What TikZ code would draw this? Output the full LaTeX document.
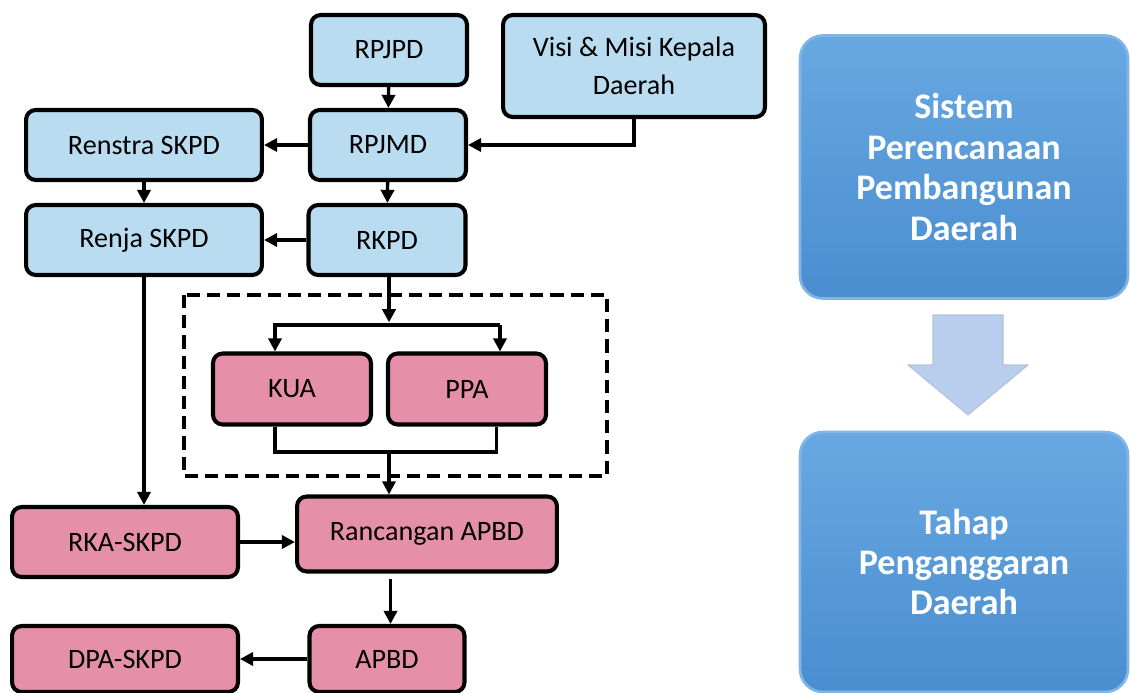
\documentclass[tikz,border=0pt]{standalone}
\usepackage{fontspec}
\setmainfont{Carlito}
\usepackage{tikz}
\usetikzlibrary{arrows.meta}
\usepackage{xcolor}
\definecolor{planblue}{RGB}{185,220,240}
\definecolor{budgetpink}{RGB}{229,143,168}
\definecolor{paneltop}{RGB}{104,168,226}
\definecolor{panelbot}{RGB}{74,142,208}
\definecolor{panelrim}{RGB}{128,182,230}
\definecolor{arrowblue}{RGB}{184,206,236}

\begin{document}
\begin{tikzpicture}[x=0.02cm,y=-0.02cm,
    box/.style={draw=black,line width=2.3pt,rounded corners=5.5pt,align=center,
        inner sep=0pt,font=\fontsize{16}{21.5}\selectfont},
    plan/.style={box,fill=planblue},
    budget/.style={box,fill=budgetpink},
    panel/.style={draw=panelrim,line width=1.5pt,rounded corners=13pt,top color=paneltop,
        bottom color=panelbot,text=white,align=center,
        font=\fontsize{20.5}{23}\selectfont\bfseries},
    link/.style={line width=1.9pt},
    arr/.style={link,-{Triangle[length=7.5pt,width=7.5pt]}}]
        \useasboundingbox (0,0) rectangle (1130,693);

        % planning documents
        \node[plan,minimum width=3.12cm,minimum height=1.40cm] (rpjpd) at (389,50) {RPJPD};
        \node[plan,minimum width=5.24cm,minimum height=2.04cm] (visi) at (634,66) {Visi \& Misi Kepala\\Daerah};
        \node[plan,minimum width=4.72cm,minimum height=1.40cm] (renstra) at (144,145) {Renstra SKPD};
        \node[plan,minimum width=3.12cm,minimum height=1.40cm] (rpjmd) at (388,145) {RPJMD};
        \node[plan,minimum width=4.72cm,minimum height=1.40cm] (renja) at (144,240) {Renja SKPD};
        \node[plan,minimum width=3.14cm,minimum height=1.40cm] (rkpd) at (387,240) {RKPD};

        % budget documents
        \node[budget,minimum width=3.16cm,minimum height=1.42cm] (kua) at (292,389) {KUA};
        \node[budget,minimum width=3.16cm,minimum height=1.42cm] (ppa) at (467,389) {PPA};
        \node[budget,minimum width=4.52cm,minimum height=1.40cm] (rka) at (125,542) {RKA-SKPD};
        \node[budget,minimum width=5.20cm,minimum height=1.50cm] (ranc) at (427,534) {Rancangan APBD};
        \node[budget,minimum width=3.10cm,minimum height=1.32cm] (apbd) at (387,659) {APBD};
        \node[budget,minimum width=4.52cm,minimum height=1.32cm] (dpa) at (125,659) {DPA-SKPD};

        % dashed frame
        \draw[line width=2.2pt,dash pattern=on 7.5pt off 4pt] (184,295) rectangle (607,476);

        % planning arrows
        \draw[arr] (rpjpd) -- (rpjmd);
        \draw[arr] (visi.south) |- (rpjmd.east);
        \draw[arr] (rpjmd) -- (renstra);
        \draw[arr] (renstra) -- (renja);
        \draw[arr] (rpjmd) -- (rkpd);
        \draw[arr] (rkpd) -- (renja);

        % into and out of the frame
        \coordinate (split) at (389,325);
        \coordinate (kuain) at (275,325);
        \coordinate (ppain) at (500,325);
        \coordinate (merge) at (389,452);
        \draw[arr] (rkpd.south -| split) -- ([yshift=1.5pt]split);
        \draw[arr] (ppain) -- (kuain) -- (kua.north -| kuain);
        \draw[arr] (ppain) -- (ppa.north -| ppain);
        \draw[link] (kua.south -| kuain) |- (merge) -| ([xshift=-2pt]ppa.south -| ppain);
        \draw[arr] (merge) -- (ranc.north -| merge);

        % budget arrows
        \draw[arr] (renja.south) -- (renja.south |- rka.north);
        \draw[arr] (rka.east) -- (rka.east -| ranc.west);
        \draw[arr] ([xshift=2pt,yshift=-3pt]apbd.north |- ranc.south) -- ([xshift=2pt]apbd.north);
        \draw[arr] (apbd.west) -- (dpa.east);

        % right-hand panels
        \node[panel,minimum width=6.56cm,minimum height=5.26cm] (sistem) at (964,167) {Sistem\\Perencanaan\\Pembangunan\\Daerah};
        \node[panel,minimum width=6.56cm,minimum height=5.20cm] (tahap) at (964,562) {Tahap\\Penganggaran\\Daerah};
        \fill[arrowblue,draw=arrowblue!85!gray,line width=0.6pt]
            (933,315) -- (1003,315) -- (1003,365) -- (1028,365) -- (968,415) -- (908,365) -- (933,365) -- cycle;
\end{tikzpicture}
\end{document}
